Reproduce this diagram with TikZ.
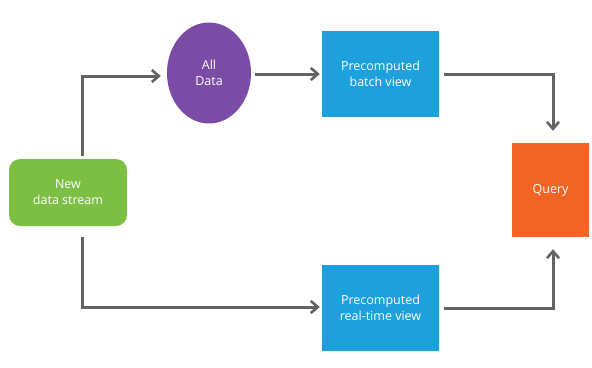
\documentclass[tikz,border=0pt]{standalone}
\usepackage{fontspec}
\setmainfont{Open Sans}
\usetikzlibrary{arrows.meta,shapes.geometric}
\definecolor{lgray}{HTML}{636365}
\definecolor{cpurple}{HTML}{7A4CA6}
\definecolor{cblue}{HTML}{1EA0DC}
\definecolor{corange}{HTML}{F06424}
\definecolor{cgreen}{HTML}{7DBF45}
\begin{document}
\begin{tikzpicture}[x=1pt,y=-1pt,
  lbl/.style={text=white,font=\fontsize{12.5}{16}\selectfont,align=center,inner sep=0pt},
  conn/.style={draw=lgray,line width=3pt,-{Straight Barb[length=7pt,width=12pt,line width=2.6pt]}},
  bluebox/.style={lbl,fill=cblue,minimum width=117pt,minimum height=86pt}]
\useasboundingbox (0,0) rectangle (592,367);
\node[lbl,fill=cpurple,ellipse,minimum width=84pt,minimum height=101pt] (all) at (209,73) {All\\Data};
\node[bluebox] (batch) at (380.5,74) {Precomputed\\batch view};
\node[bluebox] (rt) at (380.5,308) {Precomputed\\real-time view};
\node[lbl,fill=corange,minimum width=77pt,minimum height=94pt] (query) at (550.5,190) {Query};
\node[lbl,fill=cgreen,rounded corners=11pt,minimum width=118pt,minimum height=67pt] (new) at (68,192.5) {New\\data stream};
\coordinate (tl) at (82,76);
\coordinate (bl) at (82,307);
\coordinate (tr) at (553,74);
\coordinate (br) at (553,308);
\draw[conn,shorten <=3pt,shorten >=6pt] (new.north -| tl) -- (tl) -- (all.west |- tl);
\draw[conn,shorten <=11pt,shorten >=2pt] (new.south -| bl) -- (bl) -- (rt.west |- bl);
\draw[conn,shorten <=4pt,shorten >=2pt] (all.east |- batch) -- (batch.west);
\draw[conn,shorten <=5pt,shorten >=12pt] (batch.east) -- (tr) -- (query.north -| tr);
\draw[conn,shorten <=5pt,shorten >=12pt] (rt.east) -- (br) -- (query.south -| br);
\end{tikzpicture}
\end{document}
